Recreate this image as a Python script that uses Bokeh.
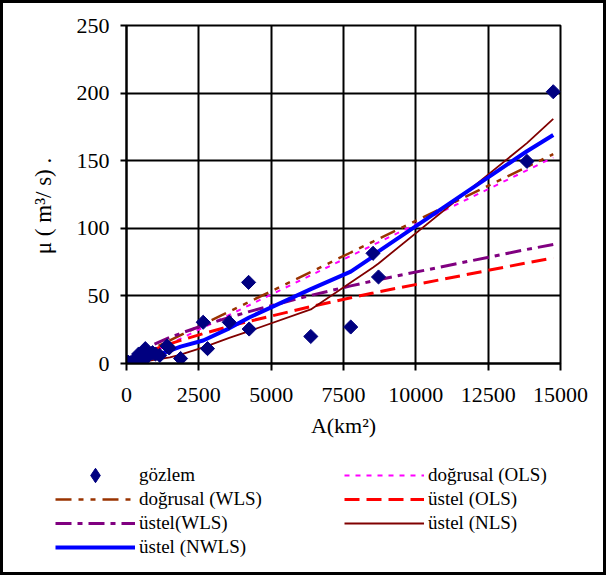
import math
from bokeh.plotting import figure
from bokeh.layouts import column
from bokeh.models import Range1d, FixedTicker, Legend, LegendItem
from bokeh.embed import file_html
from bokeh.resources import INLINE

# observed data (gözlem)
area_km2 = [20, 60, 130, 250, 350, 420, 520, 650, 720, 900, 1000, 1150, 1400, 1475,
            1870, 2650, 2800, 3550, 4220, 4240, 6370, 7750, 8520, 8710, 13840, 14750]
flow_obs = [0.5, 1.0, 0.5, 2.0, 4.0, 7.0, 3.0, 11.0, 5.0, 8.0, 7.0, 6.0, 13.0, 11.5,
            3.7, 30.5, 11.0, 30.5, 60.0, 25.5, 20.0, 27.0, 81.5, 64.0, 149.5, 201.0]

# fitted curves, read at observation areas
fit_area = [20, 250, 520, 900, 1500, 1870, 2650, 2800, 3550, 4240, 6370, 7750, 8520, 8710, 13840, 14750]
lin_ols = [0.0, 1.6, 4.4, 8.4, 14.6, 18.4, 26.6, 28.1, 35.9, 43.1, 65.2, 79.6, 87.6, 89.6, 142.9, 152.4]
lin_wls = [1.7, 4.1, 6.9, 10.9, 17.1, 21.0, 29.1, 30.6, 38.4, 45.6, 67.7, 82.1, 90.1, 92.1, 145.4, 154.9]
pow_ols = [0.6, 3.9, 6.7, 10.0, 14.5, 17.1, 22.1, 23.0, 27.4, 31.2, 42.1, 48.6, 52.1, 53.0, 74.5, 78.0]
pow_wls = [1.1, 5.8, 9.5, 13.7, 19.3, 22.3, 28.1, 29.2, 34.1, 38.4, 50.4, 57.4, 61.1, 62.0, 84.4, 88.0]
pow_nls = [0.0, 0.5, 1.0, 2.5, 4.5, 6.5, 12.0, 13.0, 19.0, 24.0, 40.0, 60.0, 71.0, 74.0, 163.0, 181.0]
pow_nwls = [0.1, 1.0, 2.5, 5.0, 9.5, 12.5, 17.0, 18.5, 26.0, 34.0, 55.0, 68.0, 79.0, 83.0, 157.0, 169.0]

x_ticks = [0, 2500, 5000, 7500, 10000, 12500, 15000]
y_ticks = [0, 50, 100, 150, 200, 250]

label_obs = "gözlem"
labels_left = ["doğrusal (WLS)", "üstel(WLS)", "üstel (NWLS)"]
labels_right = ["doğrusal (OLS)", "üstel (OLS)", "üstel (NLS)"]

FONT = "Liberation Serif"

STYLES = {
    "lin_ols": dict(line_color="#FF00FF", line_width=2, line_dash="5 6"),
    "lin_wls": dict(line_color="#993300", line_width=2.5, line_dash="16 7 5 7 5 7"),
    "pow_ols": dict(line_color="#FF0000", line_width=3, line_dash="15 7"),
    "pow_wls": dict(line_color="#800080", line_width=3, line_dash="16 6 5 6"),
    "pow_nls": dict(line_color="#800000", line_width=1.8),
    "pow_nwls": dict(line_color="#0000FF", line_width=4),
}
MARK = dict(marker="square", size=10, angle=math.pi / 4, fill_color="#000080", line_color="#000080")

p = figure(width=600, height=450, output_backend="svg", toolbar_location=None,
           x_range=Range1d(0, 15000), y_range=Range1d(0, 250),
           min_border_left=123, min_border_right=43, min_border_top=22, min_border_bottom=90)
p.background_fill_color = "white"
p.border_fill_color = "white"
p.outline_line_color = "black"
p.outline_line_width = 2

for ax, ticks in ((p.xaxis, x_ticks), (p.yaxis, y_ticks)):
    ax.ticker = FixedTicker(ticks=ticks)
    ax.axis_line_color = "black"
    ax.axis_line_width = 2
    ax.major_tick_line_color = "black"
    ax.major_tick_line_width = 2
    ax.major_tick_in = 0
    ax.minor_tick_line_color = None
    ax.major_label_text_font = FONT
    ax.major_label_text_font_size = "22px"
    ax.major_label_text_color = "black"
    ax.axis_label_text_font = FONT
    ax.axis_label_text_font_size = "22px"
    ax.axis_label_text_font_style = "normal"
    ax.axis_label_text_color = "black"

p.xaxis.major_tick_out = 7
p.xaxis.major_label_standoff = 17
p.xaxis.axis_label = "A(km²)"
p.xaxis.axis_label_standoff = 8
p.yaxis.major_tick_out = 6
p.yaxis.major_label_standoff = 11
p.yaxis.axis_label = "μ (  m³/  s)   ."
p.yaxis.axis_label_text_font_size = "23px"
p.yaxis.axis_label_standoff = 18

p.xgrid.ticker = FixedTicker(ticks=x_ticks)
p.ygrid.ticker = FixedTicker(ticks=y_ticks)
for g in (p.xgrid, p.ygrid):
    g.grid_line_color = "black"
    g.grid_line_width = 2

p.line(fit_area, lin_ols, **STYLES["lin_ols"])
p.line(fit_area, lin_wls, **STYLES["lin_wls"])
p.line(fit_area, pow_ols, **STYLES["pow_ols"])
p.line(fit_area, pow_wls, **STYLES["pow_wls"])
p.line(fit_area, pow_nls, **STYLES["pow_nls"])
p.line(fit_area, pow_nwls, **STYLES["pow_nwls"])
p.scatter(area_km2, flow_obs, **MARK)

# legend panel (separate canvas so the legend is not clipped by the plot frame);
# its renderers carry the same data but lie outside its (empty) view range.
lg = figure(width=600, height=119, output_backend="svg", toolbar_location=None,
            x_axis_type=None, y_axis_type=None,
            x_range=Range1d(-2, -1), y_range=Range1d(-2, -1),
            min_border_left=0, min_border_right=0, min_border_top=0, min_border_bottom=0)
lg.frame_align = False
lg.outline_line_color = None
lg.background_fill_color = "white"
lg.border_fill_color = "white"

k_obs = lg.scatter(area_km2, flow_obs, marker="diamond", size=14,
                   fill_color="#000080", line_color="#000080")
k_lw = lg.line(fit_area, lin_wls, **STYLES["lin_wls"])
k_pw = lg.line(fit_area, pow_wls, **STYLES["pow_wls"])
k_pnw = lg.line(fit_area, pow_nwls, **STYLES["pow_nwls"])
k_lo = lg.line(fit_area, lin_ols, **STYLES["lin_ols"])
k_po = lg.line(fit_area, pow_ols, **STYLES["pow_ols"])
k_pn = lg.line(fit_area, pow_nls, **STYLES["pow_nls"])

legend_style = dict(glyph_width=80, glyph_height=24, spacing=0, padding=0, margin=0,
                    label_standoff=4, border_line_alpha=0, background_fill_alpha=0,
                    label_text_font=FONT, label_text_font_size="19px",
                    label_text_color="black")
obs_style = dict(legend_style, glyph_height=36)
obs_legend = Legend(items=[LegendItem(label=label_obs, renderers=[k_obs])],
                    location=(52, 79), **obs_style)
left_legend = Legend(items=[LegendItem(label=t, renderers=[r]) for t, r in
                            zip(labels_left, [k_lw, k_pw, k_pnw])],
                     location=(52, 13), **legend_style)
right_legend = Legend(items=[LegendItem(label=t, renderers=[r]) for t, r in
                             zip(labels_right, [k_lo, k_po, k_pn])],
                      location=(341, 37), **legend_style)
lg.add_layout(obs_legend)
lg.add_layout(left_legend)
lg.add_layout(right_legend)

layout = column(p, lg, spacing=0)
layout.styles = {"border": "3px solid black"}

open("out.html", "w").write(file_html(layout, INLINE))
